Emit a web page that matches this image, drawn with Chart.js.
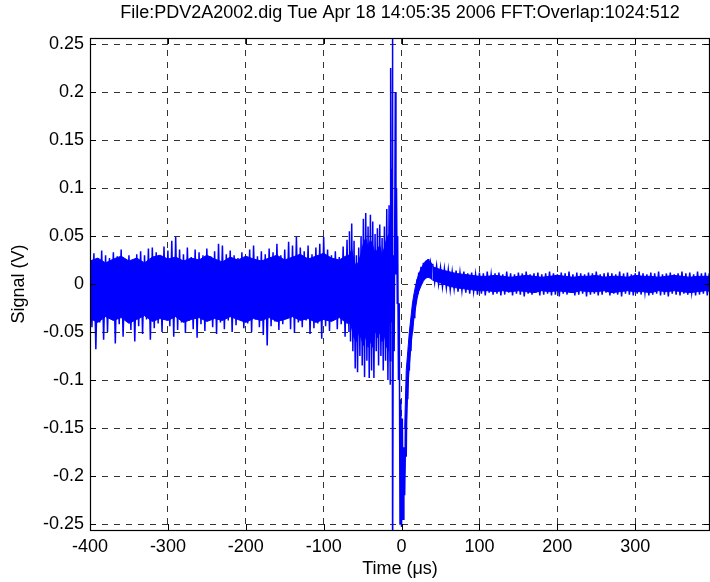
<!DOCTYPE html>
<html><head><meta charset="utf-8">
<script src="https://cdn.jsdelivr.net/npm/chart.js@4.4.0/dist/chart.umd.min.js"></script>
<style>html,body{margin:0;padding:0;background:#fff;}canvas{display:block;}</style>
</head><body>
<canvas id="c" width="710" height="582"></canvas>
<script>
const titleText = "File:PDV2A2002.dig Tue Apr 18 14:05:35 2006 FFT:Overlap:1024:512";
const xLabel = "Time (\u03bcs)";
const yLabel = "Signal (V)";
const xTicks = [-400, -300, -200, -100, 0, 100, 200, 300];
const yTicks = [-0.25, -0.2, -0.15, -0.1, -0.05, 0, 0.05, 0.1, 0.15, 0.2, 0.25];
const yTickLabels = ["-0.25", "-0.2", "-0.15", "-0.1", "-0.05", "0", "0.05", "0.1", "0.15", "0.2", "0.25"];

// pre-trigger noise peaks, t = -400 .. -70 us, every 5 us
const noiseStart = -400, noiseStep = 5;
const noiseUpper = [0.028,0.032,0.024,0.035,0.030,0.027,0.033,0.029,0.036,0.022,0.030,0.025,0.031,0.034,0.030,0.037,0.038,0.033,0.026,0.039,0.035,0.045,0.049,0.036,0.031,0.038,0.028,0.036,0.033,0.030,0.037,0.029,0.034,0.042,0.040,0.031,0.035,0.030,0.027,0.033,0.028,0.036,0.040,0.029,0.034,0.031,0.037,0.033,0.042,0.030,0.036,0.044,0.040,0.049,0.038,0.034,0.040,0.031,0.038,0.042,0.049,0.036,0.030,0.034,0.028,0.039,0.046];
const noiseLower = [-0.045,-0.068,-0.040,-0.058,-0.050,-0.035,-0.062,-0.042,-0.055,-0.038,-0.048,-0.060,-0.044,-0.052,-0.037,-0.058,-0.046,-0.041,-0.050,-0.036,-0.044,-0.055,-0.048,-0.040,-0.051,-0.038,-0.047,-0.056,-0.042,-0.049,-0.036,-0.045,-0.052,-0.040,-0.047,-0.038,-0.050,-0.043,-0.035,-0.046,-0.041,-0.050,-0.037,-0.045,-0.053,-0.064,-0.044,-0.039,-0.048,-0.042,-0.036,-0.047,-0.051,-0.040,-0.045,-0.038,-0.052,-0.046,-0.041,-0.057,-0.044,-0.049,-0.038,-0.047,-0.042,-0.055,-0.050];
// dense core of the pre-trigger noise, t = -400 .. -70 us, every 10 us
const coreStart = -400, coreStep = 10;
const noiseCoreUpper = [0.024,0.027,0.022,0.026,0.029,0.024,0.027,0.022,0.028,0.030,0.026,0.028,0.024,0.027,0.025,0.030,0.026,0.023,0.028,0.025,0.029,0.026,0.024,0.027,0.030,0.025,0.028,0.031,0.026,0.029,0.032,0.027,0.025,0.030];
const noiseCoreLower = [-0.036,-0.040,-0.034,-0.038,-0.035,-0.041,-0.037,-0.033,-0.039,-0.036,-0.038,-0.034,-0.040,-0.037,-0.035,-0.039,-0.036,-0.038,-0.034,-0.037,-0.040,-0.036,-0.038,-0.035,-0.039,-0.037,-0.034,-0.038,-0.036,-0.040,-0.037,-0.039,-0.035,-0.041];

// build-up before the trigger
const buildTime  = [-67,-64,-61,-58,-55,-52,-49,-46,-43,-40,-37,-34,-31,-28,-25,-22,-19,-16];
const buildUpper = [0.055,0.063,0.045,0.030,0.038,0.050,0.068,0.074,0.060,0.072,0.065,0.052,0.058,0.062,0.048,0.060,0.078,0.082];
const buildLower = [-0.060,-0.070,-0.088,-0.092,-0.075,-0.085,-0.097,-0.080,-0.098,-0.090,-0.098,-0.070,-0.085,-0.075,-0.090,-0.080,-0.100,-0.105];
const buildCoreUpper = [0.030,0.036,0.024,0.018,0.024,0.032,0.042,0.048,0.038,0.046,0.040,0.032,0.036,0.040,0.030,0.038,0.048,0.052];
const buildCoreLower = [-0.040,-0.046,-0.056,-0.060,-0.050,-0.056,-0.064,-0.054,-0.066,-0.060,-0.066,-0.048,-0.056,-0.050,-0.060,-0.054,-0.066,-0.070];

// trigger spike and fast transient
const spikeTime  = [-15,-14.5,-14,-13,-12,-11.6,-11.4,-10.5,-9.5,-8,-7.2,-6.5,-5.5,-5,-4,-3,-2,-1,0,1,2,3,4,5,6,7,8,9,10,11,12,13,14,15,16,17,18,20,21,22,23,25,26,28,29,31,32,34,35,37,38];
const spikeValue = [0.06,-0.08,0.225,-0.04,0.12,0.30,-0.30,0.03,-0.07,0.20,0.01,0.10,-0.02,0.05,-0.10,-0.02,-0.25,-0.12,-0.253,-0.14,-0.245,-0.17,-0.22,-0.15,-0.18,-0.10,-0.12,-0.07,-0.09,-0.05,-0.07,-0.035,-0.05,-0.02,-0.035,-0.01,-0.02,0.005,-0.01,0.012,0.000,0.018,0.006,0.022,0.010,0.024,0.012,0.026,0.013,0.022,0.010];
// recovery band after the trigger
const recTime  = [4,6,8,10,12,14,16,18,20,22,25,28,31,34,37,40];
const recUpper = [-0.150,-0.090,-0.070,-0.050,-0.035,-0.020,-0.010,-0.002,0.005,0.010,0.016,0.020,0.024,0.025,0.023,0.020];
const recLower = [-0.200,-0.150,-0.110,-0.085,-0.065,-0.050,-0.035,-0.025,-0.015,-0.008,-0.002,0.003,0.006,0.007,0.006,0.004];

// post-trigger tail peaks, t = 40 .. 395 us, every 5 us
const tailStart = 40, tailStep = 5;
const tailUpper = [0.021,0.019,0.017,0.016,0.015,0.013,0.014,0.012,0.013,0.011,0.012,0.010,0.012,0.011,0.013,0.010,0.011,0.012,0.010,0.013,0.011,0.010,0.012,0.011,0.013,0.010,0.011,0.012,0.010,0.011,0.013,0.011,0.010,0.012,0.011,0.013,0.010,0.012,0.011,0.010,0.012,0.011,0.013,0.010,0.011,0.012,0.011,0.010,0.013,0.011,0.012,0.010,0.011,0.013,0.011,0.010,0.012,0.011,0.013,0.010,0.011,0.012,0.010,0.011,0.013,0.011,0.012,0.010,0.013,0.011,0.012,0.011];
const tailLower = [0.002,0.000,-0.003,-0.004,-0.006,-0.005,-0.008,-0.007,-0.009,-0.010,-0.008,-0.011,-0.010,-0.012,-0.009,-0.011,-0.010,-0.012,-0.011,-0.009,-0.012,-0.010,-0.011,-0.013,-0.010,-0.011,-0.009,-0.012,-0.011,-0.010,-0.012,-0.011,-0.013,-0.010,-0.011,-0.009,-0.012,-0.011,-0.010,-0.013,-0.011,-0.010,-0.012,-0.011,-0.009,-0.012,-0.010,-0.011,-0.013,-0.010,-0.011,-0.012,-0.010,-0.011,-0.009,-0.012,-0.011,-0.010,-0.012,-0.011,-0.013,-0.010,-0.011,-0.012,-0.010,-0.011,-0.009,-0.012,-0.011,-0.010,-0.012,-0.011];
// dense core of the tail, t = 40 .. 400 us, every 10 us
const tailCoreStart = 40, tailCoreStep = 10;
const tailCoreUpper = [0.018,0.015,0.013,0.011,0.010,0.009,0.008,0.008,0.009,0.008,0.007,0.008,0.009,0.008,0.007,0.008,0.009,0.008,0.007,0.008,0.008,0.009,0.007,0.008,0.008,0.007,0.009,0.008,0.008,0.007,0.008,0.009,0.008,0.007,0.008,0.008,0.008];
const tailCoreLower = [0.004,0.001,-0.002,-0.004,-0.005,-0.006,-0.007,-0.007,-0.008,-0.007,-0.008,-0.007,-0.008,-0.009,-0.007,-0.008,-0.007,-0.008,-0.009,-0.007,-0.008,-0.008,-0.007,-0.009,-0.008,-0.007,-0.008,-0.008,-0.009,-0.007,-0.008,-0.007,-0.008,-0.009,-0.008,-0.007,-0.008];

// ---- assemble points ----
function zig(times, up, lo, half) {
  const pts = [];
  const n = Math.min(times.length, up.length, lo.length);
  for (let i = 0; i < n; i++) {
    pts.push({x: times[i], y: up[i]});
    pts.push({x: times[i] + half, y: lo[i]});
  }
  return pts;
}
function pairs(times, vals) {
  const pts = [];
  for (let i = 0; i < Math.min(times.length, vals.length); i++) pts.push({x: times[i], y: vals[i]});
  return pts;
}
const grid = (start, step, arr) => arr.map((_, i) => start + i * step);

const noisePts = zig(grid(noiseStart, noiseStep, noiseUpper), noiseUpper, noiseLower, noiseStep / 2);
const buildPts = zig(buildTime, buildUpper, buildLower, 1.5);
const spikePts = pairs(spikeTime, spikeValue);
const tailPts  = zig(grid(tailStart, tailStep, tailUpper), tailUpper, tailLower, tailStep / 2);

const coreHiPts = pairs(grid(coreStart, coreStep, noiseCoreUpper), noiseCoreUpper).concat(pairs(buildTime, buildCoreUpper));
const coreLoPts = pairs(grid(coreStart, coreStep, noiseCoreLower), noiseCoreLower).concat(pairs(buildTime, buildCoreLower));
const recHiPts  = pairs(recTime, recUpper);
const recLoPts  = pairs(recTime, recLower);
const tailHiPts = pairs(grid(tailCoreStart, tailCoreStep, tailCoreUpper), tailCoreUpper);
const tailLoPts = pairs(grid(tailCoreStart, tailCoreStep, tailCoreLower), tailCoreLower);

const BLUE = '#0000ff';
const FONT = '"Liberation Sans", Arial, Helvetica, sans-serif';
const FS = 18;

const framePlugin = {
  id: 'frame',
  afterDatasetsDraw(chart) {
    const {ctx, chartArea: a, scales} = chart;
    ctx.save();
    ctx.strokeStyle = '#000';
    ctx.lineWidth = 1;
    ctx.setLineDash([]);
    ctx.beginPath();
    xTicks.forEach(v => {
      const px = Math.round(scales.x.getPixelForValue(v)) + 0.5;
      ctx.moveTo(px, a.bottom); ctx.lineTo(px, a.bottom - 6);
      ctx.moveTo(px, a.top); ctx.lineTo(px, a.top + 6);
    });
    yTicks.forEach(v => {
      const py = Math.round(scales.y.getPixelForValue(v)) + 0.5;
      ctx.moveTo(a.left, py); ctx.lineTo(a.left + 6, py);
      ctx.moveTo(a.right, py); ctx.lineTo(a.right - 6, py);
    });
    ctx.stroke();
    ctx.lineWidth = 1.2;
    ctx.strokeRect(Math.round(a.left) + 0.5, Math.round(a.top) + 0.5, Math.round(a.right - a.left) - 1, Math.round(a.bottom - a.top));
    ctx.restore();
  },
  afterDraw(chart) {
    const {ctx, chartArea: a} = chart;
    ctx.save();
    ctx.fillStyle = '#000';
    ctx.font = FS + 'px ' + FONT;
    ctx.textAlign = 'center';
    ctx.textBaseline = 'middle';
    ctx.fillText(titleText, (a.left + a.right) / 2, 13);
    ctx.fillText(xLabel, (a.left + a.right) / 2, 569);
    ctx.translate(19, (a.top + a.bottom) / 2);
    ctx.rotate(-Math.PI / 2);
    ctx.fillText(yLabel, 0, 0);
    ctx.restore();
  }
};

const lineStyle = { borderColor: BLUE, backgroundColor: BLUE, borderWidth: 1.5, pointRadius: 0, tension: 0, fill: false };
const bandStyle = { borderColor: BLUE, backgroundColor: BLUE, borderWidth: 1, pointRadius: 0, tension: 0 };

new Chart(document.getElementById('c'), {
  type: 'line',
  data: { datasets: [
    Object.assign({ data: coreHiPts, fill: '+1' }, bandStyle),
    Object.assign({ data: coreLoPts, fill: false }, bandStyle),
    Object.assign({ data: recHiPts, fill: '+1' }, bandStyle),
    Object.assign({ data: recLoPts, fill: false }, bandStyle),
    Object.assign({ data: tailHiPts, fill: '+1' }, bandStyle),
    Object.assign({ data: tailLoPts, fill: false }, bandStyle),
    Object.assign({ data: noisePts }, lineStyle),
    Object.assign({ data: buildPts }, lineStyle),
    Object.assign({ data: spikePts }, lineStyle),
    Object.assign({ data: tailPts }, lineStyle)
  ] },
  options: {
    responsive: false,
    animation: false,
    layout: { padding: { top: 38, right: 0, left: 0, bottom: 0 } },
    plugins: { legend: { display: false }, tooltip: { enabled: false }, title: { display: false }, filler: { propagate: false } },
    scales: {
      x: {
        type: 'linear', min: -400, max: 396,
        afterFit: s => { s.height = 52; },
        afterBuildTicks: s => { s.ticks = xTicks.map(v => ({ value: v })); },
        ticks: { font: { family: FONT, size: FS }, color: '#000', padding: 6, maxRotation: 0, autoSkip: false, callback: v => String(v) },
        grid: { color: '#333', lineWidth: 1, drawTicks: false },
        border: { display: false, dash: [6, 6] }
      },
      y: {
        type: 'linear', min: -0.25625, max: 0.25625,
        afterFit: s => { s.width = 90; },
        afterBuildTicks: s => { s.ticks = yTicks.map(v => ({ value: v })); },
        ticks: { font: { family: FONT, size: FS }, color: '#000', padding: 6, autoSkip: false,
                 callback: v => { const i = yTicks.findIndex(t => Math.abs(t - v) < 1e-9); return i >= 0 ? yTickLabels[i] : ''; } },
        grid: { color: '#333', lineWidth: 1, drawTicks: false },
        border: { display: false, dash: [6, 6] }
      }
    }
  },
  plugins: [framePlugin]
});
</script>
</body></html>
